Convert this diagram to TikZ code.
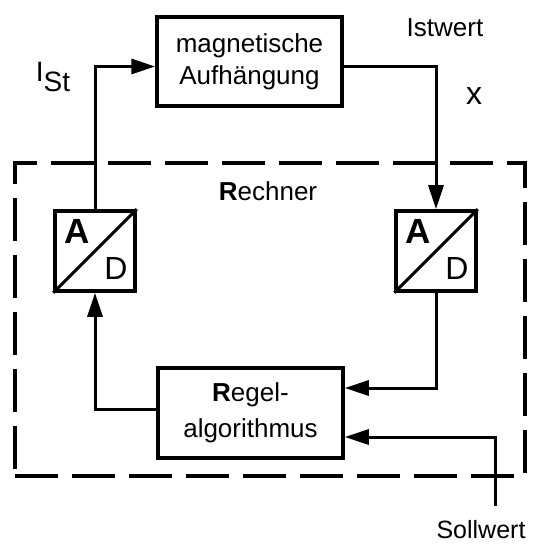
\documentclass[tikz,border=0pt]{standalone}
\usepackage{fontspec}
\setmainfont{Liberation Sans}
\usetikzlibrary{arrows.meta}

\begin{document}
\begin{tikzpicture}[x=1pt, y=-1pt,
		      txt/.style={inner sep=0pt, font=\fontsize{26}{30}\selectfont},
		      block/.style={rectangle, draw, line width=3.5pt, minimum width=185pt, minimum height=89pt, align=center, font=\fontsize{26}{32}\selectfont},
		      adc/.style={rectangle, draw, line width=3.5pt, minimum size=80pt, inner sep=0pt},
		      link/.style={line width=3pt, -{Triangle[length=24pt,width=15pt]}},
		      frame/.style={draw, line width=4pt, dash pattern=on 43pt off 14pt}]
	      \useasboundingbox (0,0) rectangle (532,545);
	      % Rechner
	      \node[frame, minimum width=510pt, minimum height=313pt] (rechner) at (270,319.5) {};
	      \node[txt] (rlabel) at (268,191) {\textbf{R}echner};
	      % Strecke und Regler
	      \node[block] (susp) at (249.5,61.5) {magnetische\\Aufhängung};
	      \node[block, minimum height=90pt, font=\fontsize{26}{36}\selectfont] (regel) at (250.5,413) {\textbf{R}egel-\\algorithmus};
	      % Wandler
	      \foreach \n/\x in {adcL/95, adcR/436}{
		      \node[adc] (\n) at (\x,251) {};
		      \draw[line width=3pt] (\n.south west) -- (\n.north east);
		      \node[inner sep=0pt, font=\fontsize{35}{35}\selectfont\bfseries] (\n-a) at ([shift={(-18,-20)}]\n.center) {A};
		      \node[inner sep=0pt, font=\fontsize{32}{32}\selectfont] (\n-d) at ([shift={(21,17)}]\n.center) {D};
	      }
	      \coordinate (in1) at ([yshift=25pt]regel.east);
	      \coordinate (in2) at ([yshift=-24pt]regel.east);
	      \coordinate (sw) at (495,506);
	      \draw[link] (adcL.north) |- ([yshift=-5pt]susp.west);
	      \draw[link] ([yshift=-5pt]susp.east) -| (adcR.north);
	      \draw[link] (adcR.south) |- (in1);
	      \draw[link] (sw) |- (in2);
	      \draw[link] ([yshift=4pt]regel.west) -| (adcL.south);
	      % Beschriftung
	      \node[font=\fontsize{28}{28}\selectfont, inner sep=0pt] (ist) at (53,77) {I\raisebox{-10pt}{St}};
	      \node[txt] (istwert) at (445,28) {Istwert};
	      \node[txt, font=\fontsize{32}{32}\selectfont] (xlabel) at (474,96) {x};
	      \node[txt, font=\fontsize{25}{30}\selectfont] (sollwert) at (481,530) {Sollwert};
	      \end{tikzpicture}
\end{document}
